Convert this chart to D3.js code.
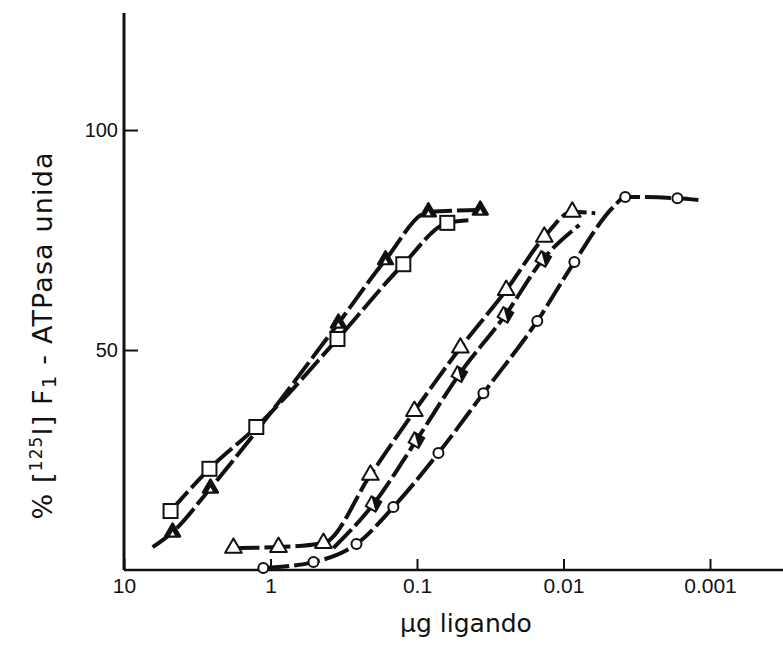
<!DOCTYPE html>
<html lang="es">
<head>
<meta charset="UTF-8">
<title>[125I]F1-ATPasa unida</title>
<script src="https://d3js.org/d3.v7.min.js"></script>
<style>
  body { margin: 0; background: #fff; }
  svg { display: block; font-family: "DejaVu Sans", sans-serif; }
  .axis text { font-size: 21px; fill: #111; }
  .axis line { stroke: #111; stroke-width: 2; }
  .curve { fill: none; stroke: #111; stroke-width: 4; stroke-dasharray: 26 5; stroke-linecap: butt; }
</style>
</head>
<body>
<svg id="chart" width="783" height="649"></svg>
<script>
const xTicks = [10, 1, 0.1, 0.01, 0.001];
const xTickLabels = ["10", "1", "0.1", "0.01", "0.001"];
const yTicks = [50, 100];

// µg ligando vs % unida
const squareDose = [4.81, 2.61, 1.25, 0.349, 0.124, 0.0621];
const squarePct  = [13.4, 23.0, 32.5, 52.5, 69.5, 78.9];
const squareLineDose = [4.81, 2.61, 1.25, 0.349, 0.124, 0.0621, 0.0446];
const squareLinePct  = [13.4, 23.0, 32.5, 52.5, 69.5, 78.9, 79.5];

const solidTriDose = [4.66, 2.57, 0.344, 0.164, 0.0836, 0.037];
const solidTriPct  = [8.6, 18.6, 56.1, 70.5, 81.4, 81.8];
const solidTriLineDose = [6.38, 4.66, 2.57, 0.344, 0.164, 0.0836, 0.037];
const solidTriLinePct  = [5.2, 8.6, 18.6, 56.1, 70.5, 81.4, 81.8];

const triDose = [1.79, 0.882, 0.435, 0.208, 0.1042, 0.0506, 0.0246, 0.01352, 0.00871];
const triPct  = [5.0, 5.2, 6.1, 21.6, 36.1, 50.5, 63.6, 75.7, 81.4];
const triLineDose = [1.79, 0.882, 0.435, 0.208, 0.1042, 0.0506, 0.0246, 0.01352, 0.00871, 0.00607];
const triLinePct  = [5.0, 5.2, 6.1, 21.6, 36.1, 50.5, 63.6, 75.7, 81.4, 81.1];

const halfDose = [0.198, 0.1009, 0.0514, 0.0249, 0.01374];
const halfPct  = [15.0, 29.5, 44.5, 58.0, 70.7];
const halfLineDose = [0.372, 0.198, 0.1009, 0.0514, 0.0249, 0.01374, 0.0078];
const halfLinePct  = [5.0, 15.0, 29.5, 44.5, 58.0, 70.7, 78.4];

const circleDose = [1.12, 0.509, 0.259, 0.145, 0.0714, 0.0352, 0.0151, 0.00843, 0.00379, 0.00167];
const circlePct  = [0.45, 1.8, 5.9, 14.3, 26.6, 40.2, 56.6, 70.0, 84.8, 84.5];
const circleLineDose = [1.12, 0.509, 0.259, 0.145, 0.0714, 0.0352, 0.0151, 0.00843, 0.00457, 0.00379, 0.00167, 0.0012];
const circleLinePct  = [0.45, 1.8, 5.9, 14.3, 26.6, 40.2, 56.6, 70.0, 82.5, 84.8, 84.5, 84.1];

const W = 783, H = 649;
const svg = d3.select("#chart");

const x = d3.scaleLog().domain([10, 0.001]).range([124, 710]);
const y = d3.scaleLinear().domain([0, 126.6]).range([570, 13]);

const zip = (a, b) => a.map((d, i) => [d, b[i]]);

// axes
const xAxis = svg.append("g")
    .attr("class", "axis")
    .attr("transform", `translate(0,${y(0)})`)
    .call(d3.axisBottom(x).tickValues(xTicks).tickSize(-11).tickPadding(8)
        .tickFormat((d, i) => xTickLabels[i]));
xAxis.select(".domain").remove();

const yAxis = svg.append("g")
    .attr("class", "axis")
    .attr("transform", `translate(${x(10)},0)`)
    .call(d3.axisLeft(y).tickValues(yTicks).tickSize(-14).tickPadding(6));
yAxis.select(".domain").remove();
yAxis.selectAll("text").style("font-size", "20px");

svg.append("line")
    .attr("x1", x(10)).attr("x2", W)
    .attr("y1", y(0)).attr("y2", y(0))
    .attr("stroke", "#111").attr("stroke-width", 2.5);
svg.append("line")
    .attr("x1", x(10)).attr("x2", x(10))
    .attr("y1", y(126.6)).attr("y2", y(0))
    .attr("stroke", "#111").attr("stroke-width", 3);

// curves
const line = d3.line()
    .x(d => x(d[0]))
    .y(d => y(d[1]))
    .curve(d3.curveMonotoneX);

[
    zip(squareLineDose, squareLinePct),
    zip(solidTriLineDose, solidTriLinePct),
    zip(triLineDose, triLinePct),
    zip(halfLineDose, halfLinePct),
    zip(circleLineDose, circleLinePct)
].forEach(pts => {
    svg.append("path").attr("class", "curve").attr("d", line(pts));
});

// markers
svg.selectAll(".sq")
    .data(zip(squareDose, squarePct))
    .enter().append("rect")
    .attr("x", d => x(d[0]) - 7)
    .attr("y", d => y(d[1]) - 7)
    .attr("width", 14).attr("height", 14)
    .attr("fill", "#fff").attr("stroke", "#111").attr("stroke-width", 2);

const triSym = d3.symbol().type(d3.symbolTriangle);

const solid = svg.selectAll(".stri")
    .data(zip(solidTriDose, solidTriPct))
    .enter().append("g")
    .attr("transform", d => `translate(${x(d[0])},${y(d[1])})`);
solid.append("path").attr("d", triSym.size(95)())
    .attr("fill", "#111").attr("stroke", "#111").attr("stroke-width", 2.5)
    .attr("stroke-linejoin", "round");
solid.append("path").attr("d", triSym.size(10)())
    .attr("transform", "translate(0,2)")
    .attr("fill", "#fff");

svg.selectAll(".tri")
    .data(zip(triDose, triPct))
    .enter().append("path")
    .attr("transform", d => `translate(${x(d[0])},${y(d[1])})`)
    .attr("d", triSym.size(120)())
    .attr("fill", "#fff").attr("stroke", "#111").attr("stroke-width", 2)
    .attr("stroke-linejoin", "round");

const half = svg.selectAll(".half")
    .data(zip(halfDose, halfPct))
    .enter().append("g")
    .attr("transform", d => `translate(${x(d[0])},${y(d[1])}) rotate(-15)`);
half.append("path").attr("d", "M0,-8L8,0L0,8L-8,0Z")
    .attr("fill", "#fff").attr("stroke", "#111").attr("stroke-width", 2);
half.append("path").attr("d", "M0,-8L8,0L0,8Z").attr("fill", "#111");

svg.selectAll(".circ")
    .data(zip(circleDose, circlePct))
    .enter().append("circle")
    .attr("cx", d => x(d[0]))
    .attr("cy", d => y(d[1]))
    .attr("r", 5)
    .attr("fill", "#fff").attr("stroke", "#111").attr("stroke-width", 2);

// axis titles
svg.append("text")
    .attr("x", 466).attr("y", 632)
    .attr("text-anchor", "middle")
    .style("font-size", "25px")
    .attr("fill", "#111")
    .text("µg ligando");

const yt = svg.append("text")
    .attr("transform", "translate(52,336) rotate(-90)")
    .attr("text-anchor", "middle")
    .attr("textLength", 367)
    .attr("lengthAdjust", "spacing")
    .style("font-size", "27px")
    .attr("fill", "#111");
yt.append("tspan").text("% [");
yt.append("tspan").attr("dy", -10).style("font-size", "17px").text("125");
yt.append("tspan").attr("dy", 10).text("I] F");
yt.append("tspan").attr("dy", 4).style("font-size", "20px").text("1");
yt.append("tspan").attr("dy", -4).text(" - ATPasa unida");
</script>
</body>
</html>
